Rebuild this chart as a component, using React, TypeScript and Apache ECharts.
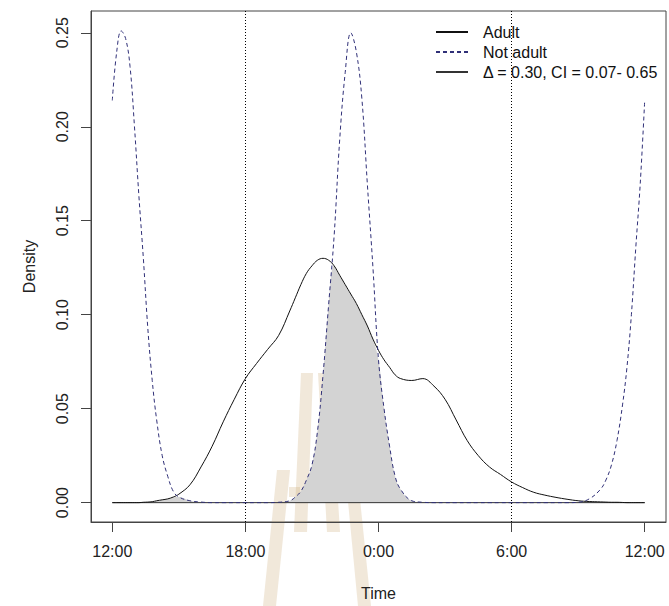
import React, { useEffect, useRef } from "react";
import * as echarts from "echarts";

// Hours since 12:00 (0 = 12:00, 12 = 0:00, 24 = 12:00)
const hours = [
  0, 0.2, 0.4, 0.6, 0.8, 1.0, 1.2, 1.4, 1.6, 1.8, 2.0,
  2.25, 2.5, 2.75, 3.0,
  3.5, 4.0, 4.5, 5.0, 5.5, 6.0, 6.5, 7.0, 7.5, 8.0,
  8.25, 8.5, 8.75, 9.0, 9.25, 9.5, 9.75, 10.0, 10.25, 10.5, 10.75, 11.0, 11.25, 11.5, 11.75, 12.0, 12.25, 12.5, 12.75, 13.0,
  13.5, 14.0, 14.5, 15.0, 15.5, 16.0, 16.5, 17.0, 17.5, 18.0, 18.5, 19.0, 19.5, 20.0, 20.5, 21.0, 21.5, 22.0,
  22.25, 22.5, 22.75, 23.0,
  23.2, 23.4, 23.6, 23.8, 24.0,
];

const adultDensity = [
  0, 0, 0, 0, 0, 0, 0, 0.0002, 0.0003, 0.0005, 0.001,
  0.0015, 0.002, 0.003, 0.0045,
  0.0095, 0.019, 0.03, 0.043, 0.055, 0.066, 0.074, 0.0815, 0.089, 0.102,
  0.109, 0.116, 0.122, 0.126, 0.129, 0.13, 0.129, 0.126, 0.121, 0.116, 0.111, 0.106, 0.1, 0.094, 0.087, 0.081, 0.076, 0.072, 0.068, 0.066,
  0.065, 0.066, 0.062, 0.055, 0.044, 0.033, 0.025, 0.019, 0.015, 0.011, 0.008, 0.0055, 0.004, 0.0028, 0.0018, 0.001, 0.0006, 0.0004,
  0.0003, 0.0002, 0.0002, 0.0001,
  0, 0, 0, 0, 0,
];

const notAdultDensity = [
  0.214, 0.24, 0.251, 0.247, 0.232, 0.2, 0.163, 0.13, 0.093, 0.065, 0.044,
  0.025, 0.014, 0.006, 0.003,
  0.001, 0.0003, 0, 0, 0, 0, 0, 0, 0.0002, 0.001,
  0.003, 0.006, 0.012, 0.02, 0.038, 0.068, 0.105, 0.142, 0.193, 0.229, 0.25, 0.24, 0.215, 0.169, 0.125, 0.076, 0.05, 0.03, 0.014, 0.007,
  0.001, 0.0002, 0, 0, 0, 0, 0, 0, 0, 0, 0, 0, 0, 0, 0, 0.0002, 0.002, 0.007,
  0.012, 0.02, 0.033, 0.052,
  0.072, 0.1, 0.136, 0.17, 0.214,
];

const xTickValues = [0, 6, 12, 18, 24];
const xTickLabels = ["12:00", "18:00", "0:00", "6:00", "12:00"];
const yTickValues = [0, 0.05, 0.1, 0.15, 0.2, 0.25];
const referenceLines = [6, 18];
const baselineRange = [0, 24];

const adultName = "Adult";
const notAdultName = "Not adult";
const deltaName = "Δ = 0.30, CI = 0.07- 0.65";

const FONT = "'Liberation Sans', Arial, sans-serif";

export default function App() {
  const ref = useRef<HTMLDivElement>(null);

  useEffect(() => {
    document.body.style.margin = "0";
    if (!ref.current) return;
    const chart = echarts.init(ref.current, undefined, { renderer: "svg" });

    const adultData = hours.map((h, i) => [h, adultDensity[i]]);
    const notAdultData = hours.map((h, i) => [h, notAdultDensity[i]]);
    const overlapData = hours.map((h, i) => [h, Math.min(adultDensity[i], notAdultDensity[i])]);
    const baselineData = baselineRange.map((h) => [h, 0]);

    const wm = { fill: "#c8a56a", opacity: 0.25 };

    chart.setOption({
      animation: false,
      textStyle: { fontFamily: FONT },
      grid: {
        left: 91,
        right: 3,
        top: 11,
        bottom: 79,
        show: true,
        borderColor: "#444",
        borderWidth: 1,
        backgroundColor: "transparent",
      },
      legend: {
        data: [adultName, notAdultName, deltaName],
        orient: "vertical",
        left: 430,
        top: 19,
        itemWidth: 32,
        itemHeight: 14,
        itemGap: 4,
        padding: 5,
        itemStyle: { opacity: 0 },
        textStyle: {
          fontFamily: FONT,
          fontSize: 16,
          lineHeight: 16,
          color: "#111",
          padding: [0, 0, 0, 10],
        },
        selectedMode: false,
      },
      xAxis: {
        type: "value",
        min: -0.96,
        max: 24.96,
        name: "Time",
        nameLocation: "middle",
        nameGap: 63,
        nameTextStyle: { fontFamily: FONT, fontSize: 16, color: "#222" },
        axisLine: { show: true, onZero: false, lineStyle: { color: "#444" } },
        axisTick: {
          show: true,
          length: 10,
          customValues: xTickValues,
          lineStyle: { color: "#444" },
        },
        axisLabel: {
          customValues: xTickValues,
          margin: 21,
          fontSize: 16,
          fontFamily: FONT,
          color: "#222",
          formatter: (v: number) => {
            const i = xTickValues.indexOf(v);
            return i >= 0 ? xTickLabels[i] : "";
          },
        },
        splitLine: { show: false },
      },
      yAxis: {
        type: "value",
        min: -0.0103,
        max: 0.2616,
        name: "Density",
        nameLocation: "middle",
        nameRotate: 90,
        nameGap: 54,
        nameTextStyle: { fontFamily: FONT, fontSize: 16, color: "#222" },
        axisLine: { show: true, onZero: false, lineStyle: { color: "#444" } },
        axisTick: {
          show: true,
          length: 10,
          customValues: yTickValues,
          lineStyle: { color: "#444" },
        },
        axisLabel: {
          customValues: yTickValues,
          rotate: 90,
          margin: 21,
          fontSize: 16,
          fontFamily: FONT,
          color: "#222",
          formatter: (v: number) => v.toFixed(2),
        },
        splitLine: { show: false },
      },
      series: [
        {
          name: "overlap",
          type: "line",
          data: overlapData,
          smooth: 0.4,
          symbol: "none",
          silent: true,
          z: 1,
          lineStyle: { width: 0, color: "#d3d3d3" },
          itemStyle: { color: "#d3d3d3" },
          areaStyle: { color: "#d3d3d3", opacity: 1 },
        },
        {
          name: deltaName,
          type: "line",
          data: baselineData,
          symbol: "none",
          silent: true,
          z: 2,
          lineStyle: { width: 1, color: "#333" },
          itemStyle: { color: "#333" },
        },
        {
          name: adultName,
          type: "line",
          data: adultData,
          smooth: 0.4,
          symbol: "none",
          silent: true,
          z: 3,
          lineStyle: { width: 1, color: "#111" },
          itemStyle: { color: "#111" },
          markLine: {
            silent: true,
            symbol: ["none", "none"],
            label: { show: false },
            lineStyle: { color: "#000", type: [1, 2], width: 1 },
            data: referenceLines.map((v) => ({ xAxis: v })),
          },
        },
        {
          name: notAdultName,
          type: "line",
          data: notAdultData,
          smooth: 0.4,
          symbol: "none",
          silent: true,
          z: 4,
          lineStyle: { width: 1, color: "#303078", type: [4, 3] },
          itemStyle: { color: "#303078" },
        },
      ],
      graphic: [
        {
          type: "group",
          silent: true,
          z: 100,
          children: [
            { type: "polygon", shape: { points: [[301, 373], [313, 373], [307, 532], [294, 532]] }, style: wm },
            { type: "polygon", shape: { points: [[318, 373], [330, 373], [340, 532], [327, 532]] }, style: wm },
            { type: "polygon", shape: { points: [[277, 470], [290, 470], [276, 606], [263, 606]] }, style: wm },
            { type: "polygon", shape: { points: [[345, 470], [357, 470], [371, 606], [358, 606]] }, style: wm },
            { type: "rect", shape: { x: 289, y: 487, width: 11, height: 10 }, style: wm },
            { type: "rect", shape: { x: 332, y: 487, width: 14, height: 10 }, style: wm },
          ],
        },
      ],
    });

    return () => chart.dispose();
  }, []);

  return <div ref={ref} style={{ width: 669, height: 606 }} />;
}
